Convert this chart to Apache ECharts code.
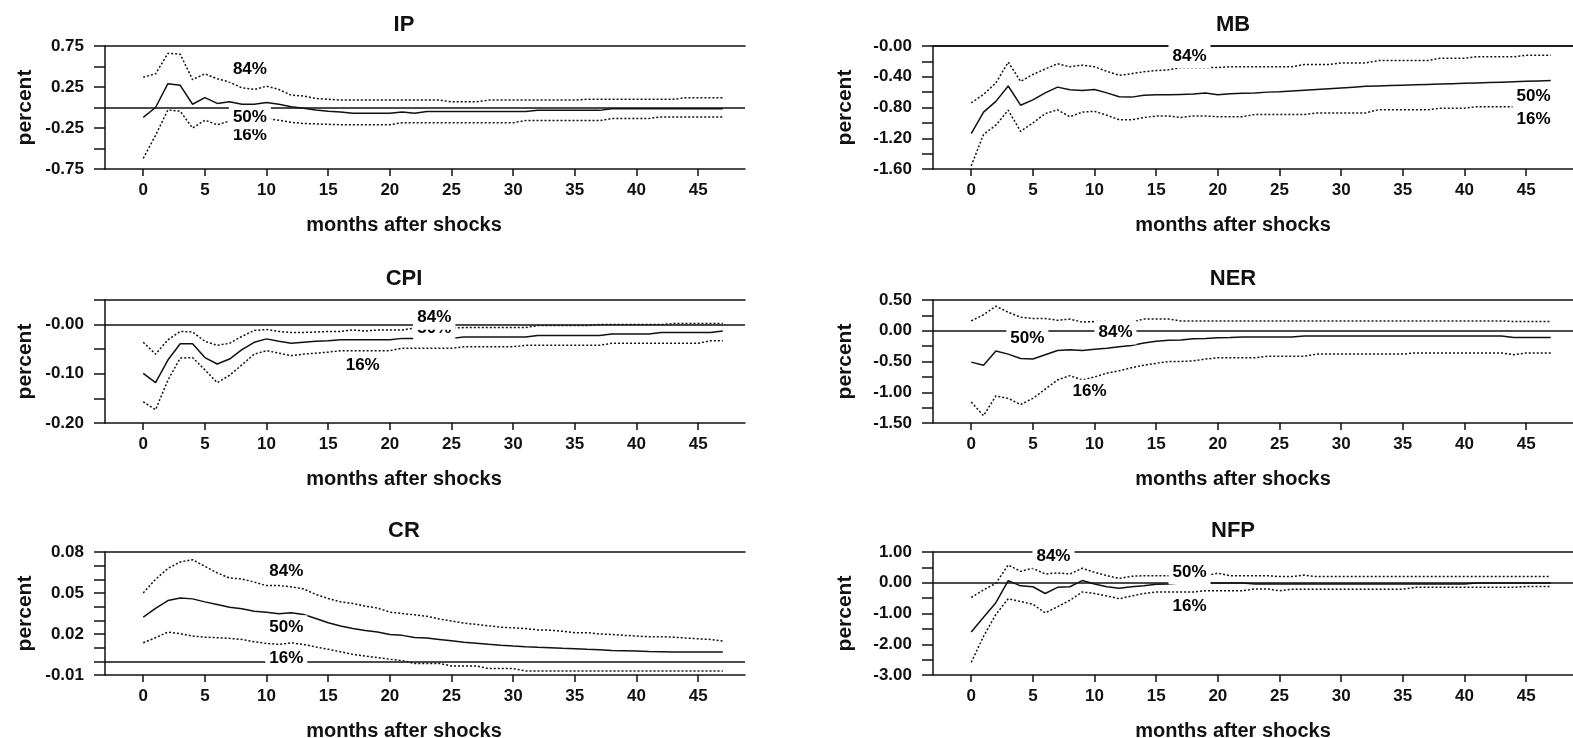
<!DOCTYPE html>
<html>
<head>
<meta charset="utf-8">
<script src="https://cdn.jsdelivr.net/npm/echarts@6/dist/echarts.min.js"></script>
<style>
  html, body { margin: 0; padding: 0; background: #fff; }
  #main { width: 1573px; height: 738px; }
</style>
</head>
<body>
<div id="main"></div>
<script>
// impulse responses, months 0..47 (84% / 50% / 16% bands)
var ipUpper = [0.37, 0.41, 0.66, 0.65, 0.34, 0.41, 0.35, 0.31, 0.24, 0.22, 0.26, 0.22, 0.15, 0.14, 0.11, 0.10, 0.09,
  0.09, 0.09, 0.09, 0.09, 0.09, 0.09, 0.09, 0.09, 0.07, 0.07, 0.07, 0.09, 0.09, 0.09, 0.09, 0.09,
  0.09, 0.09, 0.09, 0.10, 0.10, 0.10, 0.10, 0.10, 0.10, 0.10, 0.10, 0.12, 0.12, 0.12, 0.12];
var ipMedian = [-0.12, 0.00, 0.29, 0.27, 0.04, 0.12, 0.05, 0.07, 0.04, 0.04, 0.06, 0.04, 0.01, -0.01, -0.03, -0.045, -0.055,
  -0.07, -0.07, -0.07, -0.07, -0.055, -0.07, -0.05, -0.05, -0.05, -0.05, -0.05, -0.05, -0.05, -0.05, -0.05,
  -0.035, -0.035, -0.035, -0.035, -0.035, -0.035, -0.015, -0.015, -0.015, -0.015, -0.015, -0.015, -0.015, -0.015, -0.015, -0.015];
var ipLower = [-0.62, -0.34, -0.03, -0.045, -0.25, -0.155, -0.21, -0.165, -0.155, -0.16, -0.135, -0.155, -0.18, -0.195, -0.20, -0.205, -0.21,
  -0.21, -0.21, -0.21, -0.21, -0.185, -0.185, -0.185, -0.185, -0.185, -0.185, -0.185, -0.185, -0.185, -0.185,
  -0.16, -0.16, -0.16, -0.16, -0.16, -0.16, -0.16, -0.135, -0.135, -0.135, -0.135, -0.115, -0.115, -0.115, -0.115, -0.115, -0.115];

var mbUpper = [-0.74, -0.63, -0.48, -0.21, -0.46, -0.37, -0.30, -0.23, -0.27, -0.25, -0.27, -0.33, -0.38, -0.36, -0.335, -0.32, -0.31,
  -0.28, -0.28, -0.28, -0.28, -0.27, -0.27, -0.27, -0.27, -0.27, -0.27, -0.24, -0.24, -0.24, -0.22, -0.22, -0.22,
  -0.19, -0.19, -0.19, -0.19, -0.19, -0.16, -0.16, -0.16, -0.14, -0.14, -0.14, -0.14, -0.12, -0.12, -0.12];
var mbMedian = [-1.14, -0.86, -0.72, -0.52, -0.77, -0.70, -0.61, -0.535, -0.57, -0.58, -0.565, -0.61, -0.66, -0.665, -0.64, -0.635, -0.635,
  -0.63, -0.625, -0.61, -0.635, -0.62, -0.615, -0.61, -0.60, -0.595, -0.585, -0.575, -0.565, -0.555, -0.545, -0.535, -0.525,
  -0.52, -0.515, -0.51, -0.505, -0.50, -0.495, -0.49, -0.485, -0.48, -0.475, -0.47, -0.465, -0.46, -0.455, -0.45];
var mbLower = [-1.56, -1.15, -1.03, -0.835, -1.11, -1.00, -0.88, -0.83, -0.92, -0.86, -0.85, -0.90, -0.96, -0.96, -0.93, -0.91, -0.91,
  -0.93, -0.91, -0.91, -0.92, -0.92, -0.92, -0.89, -0.89, -0.89, -0.89, -0.89, -0.87, -0.87, -0.87, -0.87, -0.87,
  -0.83, -0.83, -0.83, -0.83, -0.83, -0.81, -0.81, -0.81, -0.79, -0.79, -0.79, -0.79, -0.79, -0.79, -0.79];

var cpiUpper = [-0.036, -0.060, -0.031, -0.014, -0.015, -0.034, -0.042, -0.038, -0.024, -0.012, -0.010, -0.014, -0.016, -0.016, -0.015, -0.014, -0.014,
  -0.011, -0.013, -0.011, -0.011, -0.011, -0.007, -0.007, -0.007, -0.007, -0.006, -0.006, -0.006, -0.006, -0.006, -0.006,
  -0.002, -0.002, -0.002, -0.002, -0.002, 0.000, 0.000, 0.000, 0.000, 0.000, 0.000, 0.002, 0.002, 0.002, 0.002, 0.002];
var cpiMedian = [-0.099, -0.118, -0.072, -0.039, -0.039, -0.067, -0.080, -0.070, -0.051, -0.036, -0.029, -0.034, -0.038, -0.036, -0.034, -0.033,
  -0.031, -0.031, -0.031, -0.031, -0.031, -0.028, -0.028, -0.028, -0.028, -0.028, -0.025, -0.025, -0.025, -0.025, -0.025, -0.025,
  -0.022, -0.022, -0.022, -0.022, -0.022, -0.022, -0.019, -0.019, -0.019, -0.019, -0.016, -0.016, -0.016, -0.016, -0.016, -0.013];
var cpiLower = [-0.157, -0.173, -0.113, -0.068, -0.067, -0.092, -0.118, -0.103, -0.082, -0.060, -0.053, -0.058, -0.063, -0.060, -0.058, -0.056,
  -0.053, -0.053, -0.053, -0.053, -0.053, -0.048, -0.048, -0.048, -0.048, -0.048, -0.045, -0.045, -0.045, -0.045, -0.045,
  -0.042, -0.042, -0.042, -0.042, -0.042, -0.042, -0.042, -0.038, -0.038, -0.038, -0.038, -0.038, -0.038, -0.038, -0.038, -0.033, -0.033];

var nerUpper = [0.16, 0.26, 0.40, 0.30, 0.22, 0.20, 0.20, 0.17, 0.19, 0.14, 0.15, 0.15, 0.14, 0.14, 0.19, 0.19, 0.19,
  0.16, 0.16, 0.16, 0.16, 0.16, 0.16, 0.16, 0.16, 0.16, 0.16, 0.16, 0.16, 0.16, 0.16, 0.16, 0.16,
  0.16, 0.16, 0.16, 0.16, 0.16, 0.16, 0.16, 0.16, 0.16, 0.16, 0.16, 0.15, 0.15, 0.15, 0.15];
var nerMedian = [-0.51, -0.56, -0.33, -0.38, -0.45, -0.46, -0.39, -0.32, -0.31, -0.32, -0.30, -0.285, -0.26, -0.24, -0.20, -0.17, -0.155,
  -0.15, -0.13, -0.125, -0.115, -0.11, -0.10, -0.10, -0.10, -0.10, -0.10, -0.085, -0.085, -0.085, -0.085, -0.085, -0.085,
  -0.085, -0.085, -0.085, -0.085, -0.085, -0.085, -0.085, -0.085, -0.085, -0.085, -0.085, -0.11, -0.11, -0.11, -0.11];
var nerLower = [-1.16, -1.38, -1.06, -1.10, -1.20, -1.10, -0.95, -0.80, -0.73, -0.80, -0.75, -0.69, -0.65, -0.60, -0.56, -0.53, -0.50,
  -0.50, -0.49, -0.46, -0.44, -0.44, -0.44, -0.44, -0.415, -0.415, -0.415, -0.415, -0.38, -0.38, -0.38, -0.38, -0.38,
  -0.38, -0.38, -0.38, -0.36, -0.36, -0.36, -0.36, -0.36, -0.36, -0.36, -0.36, -0.39, -0.36, -0.36, -0.36];

var crUpper = [0.050, 0.060, 0.068, 0.0727, 0.0744, 0.0695, 0.0647, 0.061, 0.0603, 0.058, 0.0554, 0.0554, 0.0545, 0.053, 0.0489, 0.046,
  0.0435, 0.0423, 0.0404, 0.039, 0.036, 0.035, 0.034, 0.033, 0.031, 0.0295, 0.028, 0.027, 0.026, 0.025, 0.0245, 0.024,
  0.023, 0.0228, 0.022, 0.021, 0.021, 0.020, 0.0197, 0.019, 0.0185, 0.018, 0.018, 0.0177, 0.017, 0.0165, 0.016, 0.0148];
var crMedian = [0.0323, 0.0387, 0.0445, 0.0464, 0.0457, 0.0435, 0.0416, 0.0396, 0.0384, 0.0367, 0.036, 0.0348, 0.0355, 0.0343, 0.0314, 0.0282,
  0.0258, 0.0241, 0.0226, 0.0214, 0.0197, 0.019, 0.0175, 0.017, 0.016, 0.015, 0.014, 0.0133, 0.0125, 0.0118, 0.0112, 0.0107,
  0.0103, 0.010, 0.0095, 0.0092, 0.0088, 0.0085, 0.008, 0.0078, 0.0075, 0.0072, 0.007, 0.0068, 0.0068, 0.0068, 0.0068, 0.0068];
var crLower = [0.0136, 0.0173, 0.0214, 0.0202, 0.0185, 0.0177, 0.0173, 0.0168, 0.016, 0.0143, 0.0131, 0.0124, 0.0136, 0.0124, 0.0105, 0.0088,
  0.007, 0.0051, 0.0039, 0.0027, 0.0015, 0.0005, -0.0015, -0.0015, -0.0015, -0.0034, -0.0034, -0.0034, -0.0053, -0.0053, -0.0053,
  -0.007, -0.007, -0.007, -0.007, -0.007, -0.007, -0.007, -0.007, -0.007, -0.007, -0.007, -0.007, -0.007, -0.007, -0.007, -0.007, -0.007];

var nfpUpper = [-0.48, -0.23, -0.02, 0.58, 0.37, 0.47, 0.285, 0.32, 0.285, 0.47, 0.34, 0.23, 0.14, 0.21, 0.23,
  0.23, 0.23, 0.23, 0.23, 0.23, 0.31, 0.23, 0.23, 0.23, 0.23, 0.20, 0.20, 0.25, 0.20, 0.20, 0.20, 0.20,
  0.20, 0.20, 0.20, 0.20, 0.20, 0.20, 0.20, 0.20, 0.20, 0.20, 0.20, 0.20, 0.20, 0.20, 0.20, 0.20];
var nfpMedian = [-1.60, -1.12, -0.65, 0.07, -0.10, -0.13, -0.35, -0.15, -0.13, 0.07, -0.04, -0.13, -0.175, -0.13, -0.10, -0.05, -0.04,
  -0.01, -0.01, -0.01, -0.01, -0.01, -0.01, -0.04, -0.04, -0.04, -0.04, -0.04, -0.04, -0.04, -0.04, -0.04,
  -0.04, -0.04, -0.04, -0.04, -0.04, -0.04, -0.04, -0.04, -0.04, -0.01, -0.01, -0.01, -0.01, -0.01, -0.01, -0.01];
var nfpLower = [-2.59, -1.74, -1.03, -0.52, -0.61, -0.70, -0.98, -0.78, -0.57, -0.30, -0.35, -0.43, -0.52, -0.43, -0.35,
  -0.30, -0.30, -0.30, -0.30, -0.26, -0.26, -0.26, -0.26, -0.20, -0.20, -0.26, -0.21, -0.21, -0.21, -0.21, -0.21,
  -0.21, -0.21, -0.21, -0.21, -0.21, -0.15, -0.15, -0.15, -0.15, -0.15, -0.15, -0.15, -0.15, -0.15, -0.12, -0.12, -0.12];

// x-axis tick labels and per-panel y tick labels
var monthTicks = [0, 5, 10, 15, 20, 25, 30, 35, 40, 45];
var ipTicks = ['0.75', '0.25', '-0.25', '-0.75'];
var mbTicks = ['-0.00', '-0.40', '-0.80', '-1.20', '-1.60'];
var cpiTicks = ['-0.00', '-0.10', '-0.20'];
var nerTicks = ['0.50', '0.00', '-0.50', '-1.00', '-1.50'];
var crTicks = ['0.08', '0.05', '0.02', '-0.01'];
var nfpTicks = ['1.00', '0.00', '-1.00', '-2.00', '-3.00'];

// percentile tags: [text, month, value]
var ipTags = [['16%', 8.65, -0.34], ['50%', 8.65, -0.12], ['84%', 8.65, 0.46]];
var mbTags = [['16%', 45.6, -0.96], ['50%', 45.6, -0.66], ['84%', 17.7, -0.13]];
var cpiTags = [['16%', 17.8, -0.082], ['50%', 23.6, -0.008], ['84%', 23.6, 0.014]];
var nerTags = [['16%', 9.6, -0.99], ['50%', 4.55, -0.13], ['84%', 11.7, -0.03]];
var crTags = [['16%', 11.6, 0.0022], ['50%', 11.6, 0.025], ['84%', 11.6, 0.066]];
var nfpTags = [['16%', 17.7, -0.76], ['50%', 17.7, 0.34], ['84%', 6.67, 0.855]];

var panels = [
  { name: 'IP', up: ipUpper, med: ipMedian, lo: ipLower, min: -0.75, max: 0.75, step: 0.25, ticks: ipTicks, tags: ipTags },
  { name: 'MB', up: mbUpper, med: mbMedian, lo: mbLower, min: -1.6, max: 0, step: 0.2, ticks: mbTicks, tags: mbTags },
  { name: 'CPI', up: cpiUpper, med: cpiMedian, lo: cpiLower, min: -0.2, max: 0.05, step: 0.05, ticks: cpiTicks, tags: cpiTags },
  { name: 'NER', up: nerUpper, med: nerMedian, lo: nerLower, min: -1.5, max: 0.5, step: 0.25, ticks: nerTicks, tags: nerTags },
  { name: 'CR', up: crUpper, med: crMedian, lo: crLower, min: -0.01, max: 0.08, step: 0.01, ticks: crTicks, tags: crTags },
  { name: 'NFP', up: nfpUpper, med: nfpMedian, lo: nfpLower, min: -3, max: 1, step: 0.5, ticks: nfpTicks, tags: nfpTags }
];

var FONT = 'Liberation Sans, Arial, sans-serif';
var INK = '#111';
var colLeft = [105, 933];
var colCenter = [399, 1228];
var nameGap = [69, 77];
var rowTop = [46, 300, 552];
var plotW = 640, plotH = 123;

function pairs(arr) {
  return arr.map(function (v, i) { return [i, v]; });
}

var myChart = echarts.init(document.getElementById('main'));
var grid = [], xAxis = [], yAxis = [], series = [], title = [];

panels.forEach(function (p, k) {
  var col = k % 2, row = Math.floor(k / 2);
  grid.push({ left: colLeft[col], top: rowTop[row], width: plotW, height: plotH });

  title.push({
    text: p.name, left: colCenter[col], top: rowTop[row] - 37, textAlign: 'center',
    textStyle: { fontFamily: FONT, fontSize: 22, fontWeight: 'bold', color: INK }
  });
  title.push({
    text: 'months after shocks', left: colCenter[col], top: rowTop[row] + plotH + 41, textAlign: 'center',
    textStyle: { fontFamily: FONT, fontSize: 20, fontWeight: 'bold', color: INK }
  });

  // bottom axis with month ticks
  xAxis.push({
    type: 'value', gridIndex: k, min: -3.1, max: 48.8, position: 'bottom',
    axisLine: { show: true, onZero: false, lineStyle: { color: INK, width: 1.5 } },
    axisTick: { show: true, customValues: monthTicks, length: 7, lineStyle: { color: INK, width: 1.5 } },
    axisLabel: { customValues: monthTicks, margin: 13, fontFamily: FONT, fontSize: 17, fontWeight: 'bold', color: INK },
    splitLine: { show: false }
  });
  // top frame line
  xAxis.push({
    type: 'value', gridIndex: k, min: -3.1, max: 48.8, position: 'top',
    axisLine: { show: true, onZero: false, lineStyle: { color: INK, width: 1.5 } },
    axisTick: { show: false }, axisLabel: { show: false }, splitLine: { show: false }
  });

  yAxis.push({
    type: 'value', gridIndex: k, min: p.min, max: p.max, interval: p.step,
    name: 'percent', nameLocation: 'middle', nameRotate: 90, nameGap: nameGap[col],
    nameTextStyle: { fontFamily: FONT, fontSize: 21, fontWeight: 'bold', color: INK },
    axisLine: { show: true, onZero: false, lineStyle: { color: INK, width: 1.5 } },
    axisTick: { show: true, length: 11, lineStyle: { color: INK, width: 1.5 } },
    axisLabel: {
      margin: 21, fontFamily: FONT, fontSize: 17, fontWeight: 'bold', color: INK,
      formatter: function (v) {
        for (var i = 0; i < p.ticks.length; i++) {
          if (Math.abs(parseFloat(p.ticks[i]) - v) < 1e-6) return p.ticks[i];
        }
        return '';
      }
    },
    splitLine: { show: false }
  });

  var xi = 2 * k;
  var dotted = { color: INK, width: 1.5, type: [2, 2] };
  series.push({
    type: 'line', xAxisIndex: xi, yAxisIndex: k, data: pairs(p.up),
    showSymbol: false, symbol: 'none', lineStyle: dotted, silent: true
  });
  series.push({
    type: 'line', xAxisIndex: xi, yAxisIndex: k, data: pairs(p.lo),
    showSymbol: false, symbol: 'none', lineStyle: dotted, silent: true
  });
  series.push({
    type: 'line', xAxisIndex: xi, yAxisIndex: k, data: pairs(p.med),
    showSymbol: false, symbol: 'none', lineStyle: { color: INK, width: 1.5 }, silent: true,
    markLine: {
      silent: true, symbol: ['none', 'none'], label: { show: false },
      lineStyle: { color: INK, width: 1.5, type: 'solid' },
      data: [{ yAxis: 0 }]
    }
  });
  series.push({
    type: 'scatter', xAxisIndex: xi, yAxisIndex: k, z: 10, silent: true,
    symbolSize: 1, itemStyle: { color: '#fff' },
    data: p.tags.map(function (t) { return { name: t[0], value: [t[1], t[2]] }; }),
    label: {
      show: true, position: 'inside', formatter: '{b}', opacity: 1,
      backgroundColor: '#fff', padding: [4, 4, 3, 4],
      fontFamily: FONT, fontSize: 17, fontWeight: 'bold', color: '#000'
    }
  });
});

myChart.setOption({
  backgroundColor: '#fff',
  animation: false,
  title: title,
  grid: grid,
  xAxis: xAxis,
  yAxis: yAxis,
  series: series
});
</script>
</body>
</html>
